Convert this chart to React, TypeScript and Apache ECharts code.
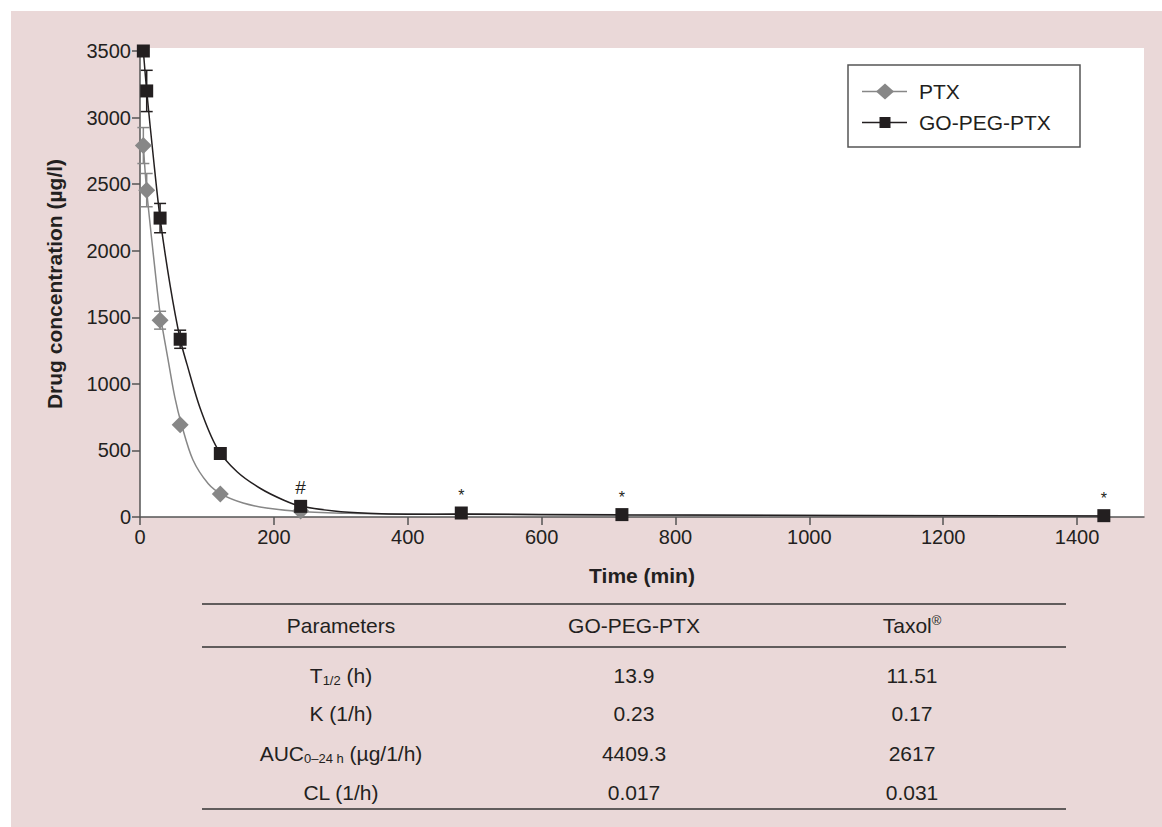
import React, { useEffect, useRef } from "react";
import * as echarts from "echarts";

// ---- data: measured points ----
const times = [5, 10, 30, 60, 120, 240, 480, 720, 1440];
const ptxTimes = [5, 10, 30, 60, 120, 240];
const ptxValues = [2790, 2455, 1478, 692, 172, 45];
const ptxErr = [135, 125, 67, 0, 0, 0];
const goValues = [3500, 3200, 2245, 1335, 477, 80, 30, 18, 10];
const goErr = [0, 155, 110, 68, 0, 0, 0, 0, 0];
const goMarks = ["", "", "", "", "", "#", "*", "*", "*"];

// ---- data: fitted curves ----
const goCurveT = [5, 10, 20, 30, 45, 60, 70, 90, 115, 145, 180, 215, 240, 290, 340, 400, 480, 720, 1440];
const goCurveV = [3500, 3200, 2700, 2245, 1740, 1335, 1150, 815, 520, 340, 214, 126, 82, 45, 28, 21, 22, 16, 8];
const ptxCurveT = [5, 10, 23, 30, 42, 52, 62, 79, 102, 123, 154, 189, 239, 314, 404, 480, 720, 1440];
const ptxCurveV = [2790, 2450, 1830, 1530, 1180, 900, 695, 430, 250, 168, 105, 68, 42, 28, 22, 20, 14, 7];

const xTicks = [0, 200, 400, 600, 800, 1000, 1200, 1400];
const seriesNames = ["PTX", "GO-PEG-PTX"];

const tableHeader = ["Parameters", "GO-PEG-PTX", "Taxol{sup|®}"];
const tableParams = ["T{sub|1/2} (h)", "K (1/h)", "AUC{sub|0–24 h} (µg/1/h)", "CL (1/h)"];
const tableGo = ["13.9", "0.23", "4409.3", "0.017"];
const tableTaxol = ["11.51", "0.17", "2617", "0.031"];

const FONT = "'Liberation Sans', Arial, Helvetica, sans-serif";
const GREY = "#878787";
const BLACK = "#231f20";
const TEXT = "#231f20";

function errorSeries(name: string, t: number[], vals: number[], errs: number[], color: string) {
  const data = t
    .map((x, i) => [x, vals[i] - errs[i], vals[i] + errs[i], errs[i]])
    .filter((d) => d[3] > 0);
  return {
    type: "custom",
    name,
    data,
    encode: { x: 0, y: [1, 2] },
    z: 1,
    silent: true,
    renderItem: (params: any, api: any) => {
      const x = api.value(0);
      const lo = api.coord([x, api.value(1)]);
      const hi = api.coord([x, api.value(2)]);
      const w = 6;
      const st = { stroke: color, lineWidth: 1.5 };
      return {
        type: "group",
        children: [
          { type: "line", shape: { x1: lo[0], y1: lo[1], x2: hi[0], y2: hi[1] }, style: st },
          { type: "line", shape: { x1: lo[0] - w, y1: lo[1], x2: lo[0] + w, y2: lo[1] }, style: st },
          { type: "line", shape: { x1: hi[0] - w, y1: hi[1], x2: hi[0] + w, y2: hi[1] }, style: st },
        ],
      };
    },
  };
}

export default function App() {
  const ref = useRef<HTMLDivElement>(null);
  useEffect(() => {
    if (!ref.current) return;
    const chart = echarts.init(ref.current, undefined, { renderer: "svg" });

    const colX = [341, 634, 912];
    const rowY = [675, 713, 753, 792];
    const rich = {
      sub: { fontSize: 13, fontFamily: FONT, fill: TEXT, verticalAlign: "bottom", padding: [10, 0, 0, 0] },
      sup: { fontSize: 13, fontFamily: FONT, fill: TEXT, verticalAlign: "top", padding: [0, 0, 10, 0] },
    };
    const textEl = (x: number, y: number, t: string) => ({
      type: "text",
      x,
      y,
      style: {
        text: t,
        rich,
        fontSize: 21,
        fontFamily: FONT,
        fill: TEXT,
        align: "center",
        verticalAlign: "middle",
      },
    });
    const legendRows = [91.5, 122.5];
    const graphics: any[] = [
      { type: "rect", shape: { x: 848, y: 65, width: 232, height: 82 }, style: { fill: "#fff", stroke: "#555", lineWidth: 1.5 }, z: 10 },
      // legend: PTX
      { type: "line", shape: { x1: 862, y1: legendRows[0], x2: 907, y2: legendRows[0] }, style: { stroke: GREY, lineWidth: 1.5 }, z: 11 },
      {
        type: "polygon",
        shape: { points: [[885, legendRows[0] - 8], [894, legendRows[0]], [885, legendRows[0] + 8], [876, legendRows[0]]] },
        style: { fill: GREY },
        z: 12,
      },
      { type: "text", x: 919, y: legendRows[0], style: { text: seriesNames[0], fontSize: 21, fontFamily: FONT, fill: TEXT, verticalAlign: "middle" }, z: 12 },
      // legend: GO-PEG-PTX
      { type: "line", shape: { x1: 862, y1: legendRows[1], x2: 907, y2: legendRows[1] }, style: { stroke: BLACK, lineWidth: 1.5 }, z: 11 },
      { type: "rect", shape: { x: 879.5, y: legendRows[1] - 5.5, width: 11, height: 11 }, style: { fill: BLACK }, z: 12 },
      { type: "text", x: 919, y: legendRows[1], style: { text: seriesNames[1], fontSize: 21, fontFamily: FONT, fill: TEXT, verticalAlign: "middle" }, z: 12 },
      // table rules
      { type: "line", shape: { x1: 202, y1: 604, x2: 1066, y2: 604 }, style: { stroke: "#333", lineWidth: 1.5 } },
      { type: "line", shape: { x1: 202, y1: 647, x2: 1066, y2: 647 }, style: { stroke: "#333", lineWidth: 1.5 } },
      { type: "line", shape: { x1: 202, y1: 809, x2: 1066, y2: 809 }, style: { stroke: "#333", lineWidth: 1.5 } },
    ];
    tableHeader.forEach((h, i) => graphics.push(textEl(colX[i], 625, h)));
    tableParams.forEach((p, i) => {
      graphics.push(textEl(colX[0], rowY[i], p));
      graphics.push(textEl(colX[1], rowY[i], tableGo[i]));
      graphics.push(textEl(colX[2], rowY[i], tableTaxol[i]));
    });

    chart.setOption({
      animation: false,
      backgroundColor: "transparent",
      textStyle: { fontFamily: FONT },
      grid: { left: 140, top: 51, right: 18, bottom: 310 },
      xAxis: {
        type: "value",
        min: 0,
        max: 1500,
        interval: 200,
        name: "Time (min)",
        nameLocation: "middle",
        nameGap: 48,
        nameTextStyle: { fontSize: 21, fontWeight: "bold", color: TEXT },
        axisLine: { lineStyle: { color: "#555", width: 1.5 } },
        axisTick: { show: true, length: 8, lineStyle: { color: "#555", width: 1.5 }, customValues: xTicks },
        axisLabel: { fontSize: 20, color: TEXT, margin: 10, customValues: xTicks, formatter: (v: number) => String(v) },
        splitLine: { show: false },
      },
      yAxis: {
        type: "value",
        min: 0,
        max: 3500,
        interval: 500,
        name: "Drug concentration (µg/l)",
        nameLocation: "middle",
        nameGap: 75,
        nameTextStyle: { fontSize: 21, fontWeight: "bold", color: TEXT },
        axisLine: { show: true, lineStyle: { color: "#555", width: 1.5 } },
        axisTick: { show: true, length: 8, lineStyle: { color: "#555", width: 1.5 } },
        axisLabel: { fontSize: 20, color: TEXT, margin: 9, formatter: (v: number) => String(v) },
        splitLine: { show: false },
      },
      graphic: graphics,
      series: [
        {
          type: "line",
          name: seriesNames[0] + " fit",
          smooth: 0.3,
          symbol: "none",
          silent: true,
          lineStyle: { color: GREY, width: 1.5 },
          z: 2,
          data: ptxCurveT.map((t, i) => [t, ptxCurveV[i]]),
        },
        {
          type: "line",
          name: seriesNames[1] + " fit",
          smooth: 0.3,
          symbol: "none",
          silent: true,
          lineStyle: { color: BLACK, width: 1.5 },
          z: 2,
          data: goCurveT.map((t, i) => [t, goCurveV[i]]),
        },
        errorSeries("ptxErr", ptxTimes, ptxValues, ptxErr, GREY),
        errorSeries("goErr", times, goValues, goErr, BLACK),
        {
          type: "scatter",
          name: seriesNames[0],
          symbol: "diamond",
          symbolSize: [17, 17],
          itemStyle: { color: GREY, opacity: 1 },
          z: 3,
          data: ptxTimes.map((t, i) => [t, ptxValues[i]]),
        },
        {
          type: "scatter",
          name: seriesNames[1],
          symbol: "rect",
          symbolSize: 13,
          itemStyle: { color: BLACK, opacity: 1 },
          z: 4,
          data: times.map((t, i) =>
            goMarks[i]
              ? {
                  value: [t, goValues[i]],
                  label: {
                    show: true,
                    formatter: goMarks[i],
                    position: "top",
                    distance: 3,
                    fontSize: goMarks[i] === "#" ? 19 : 16,
                    color: TEXT,
                  },
                }
              : [t, goValues[i]]
          ),
        },
      ],
    });
    return () => chart.dispose();
  }, []);

  return (
    <div style={{ position: "absolute", left: 0, top: 0, width: 1162, height: 827, background: "#fff" }}>
      <div style={{ position: "absolute", left: 11, top: 11, width: 1151, height: 816, background: "#ead8d8" }} />
      <div style={{ position: "absolute", left: 140, top: 48, width: 1004, height: 469, background: "#fff" }} />
      <div ref={ref} style={{ position: "absolute", left: 0, top: 0, width: 1162, height: 827 }} />
    </div>
  );
}
